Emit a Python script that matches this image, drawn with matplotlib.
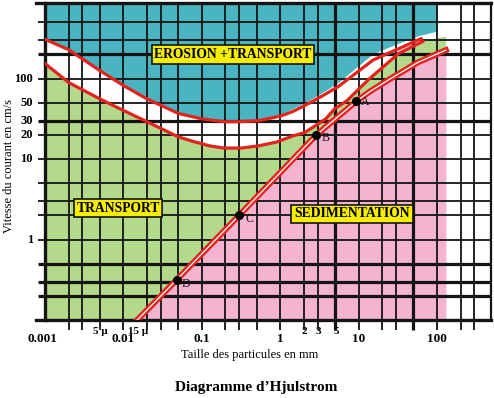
"""
Hjulstrom diagram (French version) - grain size vs current velocity,
coloured zones for erosion / transport / sedimentation.
"""
import matplotlib
matplotlib.use("Agg")
import matplotlib.pyplot as plt

plt.rcParams["font.family"] = ["Liberation Serif", "DejaVu Serif"]

# ---------------- data (mm, cm/s) ----------------
upper_x = [0.001, 0.002, 0.005, 0.01, 0.02, 0.05, 0.1, 0.195, 0.29, 0.53,
           1.02, 1.45, 2.27, 3.43, 5.55, 15.3, 32.5, 63]
upper_v = [308, 229, 126, 82, 56, 37, 31.6, 29.1, 29.1, 30,
           34.3, 39, 48.7, 60.7, 80, 170, 235, 315]

lower_x = [0.001, 0.002, 0.005, 0.01, 0.02, 0.05, 0.074, 0.125, 0.19, 0.32,
           0.53, 0.906, 1.45, 2.05, 2.9, 3.82, 5.0, 7.07, 13.4, 32.4, 67]
lower_v = [154, 89.5, 56, 40.2, 29.1, 18.9, 16.8, 14.6, 13.7, 13.7,
           14.6, 16.3, 19.4, 21.3, 26.5, 31.6, 42.4, 52.9, 97.3, 205, 292]

# lower edge of the blue erosion zone (leaves a thin white strip on the right)
teal_x = [0.001, 0.002, 0.005, 0.01, 0.02, 0.05, 0.1, 0.195, 0.29, 0.53,
          1.02, 1.45, 2.27, 3.43, 5.55, 15.3, 32.5, 57, 100]
teal_v = [308, 229, 126, 82, 56, 37, 31.6, 29.1, 29.1, 30,
          36, 42.4, 53, 67, 90, 205, 275, 340, 389]

sed_x = [0.015, 0.048, 0.3, 2.9, 9.3, 14.1, 24.5, 57, 130]
sed_v = [0.1, 0.317, 2.0, 20, 52, 69.6, 97.3, 159, 226]

pt_names = ["A", "B", "C", "D"]
pt_x = [9.3, 2.9, 0.3, 0.048]
pt_v = [52, 20, 2.0, 0.317]

grid_x = [0.002, 0.003, 0.005, 0.01, 0.02, 0.03, 0.05, 0.1, 0.2, 0.3, 0.5,
          1, 2, 3, 5, 10, 20, 30, 50, 100, 200, 300]
grid_v = [0.2, 0.3, 0.5, 1, 2, 3, 5, 10, 20, 30, 50, 100, 200, 300, 500]
thick_x = [5, 50]
thick_v = [0.2, 0.3, 0.5, 30, 200]

xlab_vals = [0.001, 0.01, 0.1, 1, 10, 100]
xlab_text = ["0.001", "0.01", "0.1", "1", "10", "100"]
xsmall_vals = [0.005, 0.015, 2, 3, 5]
xsmall_text = ["5 µ", "15 µ", "2", "3", "5"]
ylab_vals = [1, 10, 20, 30, 50, 100]
ylab_text = ["1", "10", "20", "30", "50", "100"]

XMIN, XMAX = 0.001, 489
YMIN, YMAX = 0.1, 870
WEDGE_TOP = 340   # top of green wedge right of the erosion band

TEAL = "#4AB4C0"
GREEN = "#B3D98A"
PINK = "#F4B4D0"
RED = "#E2231E"
YELLOW = "#F5EE00"
INK = "#141414"

fig = plt.figure(figsize=(4.94, 3.98), dpi=100)
ax = fig.add_axes([45 / 494, 78 / 398, 446 / 494, 317 / 398])
ax.set_xscale("log")
ax.set_yscale("log")
ax.set_xlim(XMIN, XMAX)
ax.set_ylim(YMIN, YMAX)
ax.set_xticks([])
ax.set_xticks([], minor=True)
ax.set_yticks([])
ax.set_yticks([], minor=True)
for s in ax.spines.values():
    s.set_visible(False)

# ---------------- zones ----------------
ax.fill_between([XMIN, sed_x[-1]], YMIN, YMAX, color=GREEN, lw=0, zorder=1)
ax.fill_between(sed_x, YMIN, sed_v, color=PINK, lw=0, zorder=2)
ax.fill_between(lower_x, lower_v, YMAX, color="white", lw=0, zorder=3)
ax.fill_between([lower_x[-1], sed_x[-1]], [lower_v[-1], WEDGE_TOP], YMAX,
                color="white", lw=0, zorder=3)
ax.fill_between(teal_x, teal_v, YMAX, color=TEAL, lw=0, zorder=4)

# ---------------- grid + ticks ----------------
xt = ax.get_xaxis_transform()
yt = ax.get_yaxis_transform()
for v in grid_x:
    ax.plot([v, v], [-0.03, 1], transform=xt, color=INK, clip_on=False,
            lw=2.3 if v in thick_x else 1.3, zorder=5, solid_capstyle="butt")
for v in grid_v:
    ax.plot([-0.016, 1], [v, v], transform=yt, color=INK, clip_on=False,
            lw=2.3 if v in thick_v else 1.3, zorder=5, solid_capstyle="butt")

# frame
at = ax.transAxes
ax.plot([-0.02, 1], [1, 1], transform=at, color=INK, lw=2.4, clip_on=False, zorder=5)
ax.plot([-0.02, 1], [0, 0], transform=at, color=INK, lw=2.4, clip_on=False, zorder=5)
ax.plot([0, 0], [0, 1], transform=at, color=INK, lw=2.4, clip_on=False, zorder=5)
ax.plot([1, 1], [0, 1], transform=at, color=INK, lw=1.6, clip_on=False, zorder=5)

# ---------------- curves ----------------
ax.plot(upper_x, upper_v, color=RED, lw=2.3, zorder=6, solid_capstyle="round")
ax.plot(lower_x, lower_v, color=RED, lw=2.3, zorder=6, solid_capstyle="round")
ax.plot(sed_x, sed_v, color=RED, lw=4.3, zorder=6)
ax.plot(sed_x, sed_v, color="white", lw=0.9, zorder=6)

ax.plot(pt_x, pt_v, "o", color="black", ms=5.5, zorder=7)
offs = {"A": (5, -1), "B": (5, -3), "C": (6, -4), "D": (5, -4)}
for name, x, v in zip(pt_names, pt_x, pt_v):
    ax.annotate(name, (x, v), xytext=offs[name], textcoords="offset pixels",
                ha="left", va="center", fontsize=8.5, color=INK, zorder=8)

# ---------------- zone labels ----------------
box = dict(boxstyle="square,pad=0.2", fc=YELLOW, ec=INK, lw=1.2)
ax.text(0.4215, 0.8375, "EROSION +TRANSPORT", transform=at, ha="center",
        va="center", fontsize=9.8, fontweight="bold", bbox=box, zorder=9)
ax.text(0.1637, 0.3533, "TRANSPORT", transform=at, ha="center",
        va="center", fontsize=9.8, fontweight="bold", bbox=box, zorder=9)
ax.text(0.6883, 0.3344, "SEDIMENTATION", transform=at, ha="center",
        va="center", fontsize=9.8, fontweight="bold", bbox=box, zorder=9)

# ---------------- tick labels ----------------
xdx = {"0.001": -3}
for v, s in zip(xlab_vals, xlab_text):
    ax.annotate(s, (v, 0), xycoords=("data", "axes fraction"),
                xytext=(xdx.get(s, 0), -19), textcoords="offset pixels",
                ha="center", va="center", fontsize=9.5, fontweight="bold")
for v, s in zip(xsmall_vals, xsmall_text):
    ax.annotate(s, (v, 0), xycoords=("data", "axes fraction"),
                xytext=(1, -11), textcoords="offset pixels",
                ha="center", va="center", fontsize=8, fontweight="bold")
for v, s in zip(ylab_vals, ylab_text):
    ax.annotate(s, (0, v), xycoords=("axes fraction", "data"),
                xytext=(-12, 0), textcoords="offset pixels",
                ha="right", va="center", fontsize=9, fontweight="bold")

fig.text(9 / 494, 1 - 166 / 398, "Vitesse du courant en cm/s", rotation=90,
         ha="center", va="center", fontsize=9)
fig.text(250 / 494, 1 - 355 / 398, "Taille des particules en mm",
         ha="center", va="center", fontsize=9)
fig.text(256 / 494, 1 - 387 / 398, "Diagramme d’Hjulstrom",
         ha="center", va="center", fontsize=11, fontweight="bold")

fig.savefig("out.png", dpi=100)
